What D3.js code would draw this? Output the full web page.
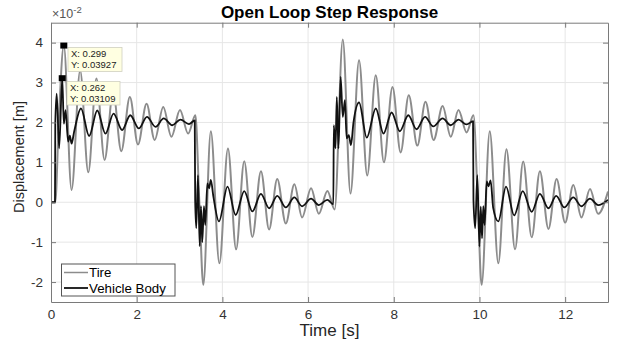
<!DOCTYPE html>
<html>
<head>
<meta charset="utf-8">
<script src="https://cdn.jsdelivr.net/npm/d3@7"></script>
<style>
html,body{margin:0;padding:0;background:#fff;}
svg{display:block;font-family:"Liberation Sans",Arial,Helvetica,sans-serif;}
</style>
</head>
<body>
<svg id="chart" width="623" height="342"></svg>
<script>
// ---- data (displacement values in units of 1e-2 m) ----
const tireT = [0,0.10,0.18,0.299,0.48,0.68,0.87,1.06,1.25,1.45,1.64,1.84,2.03,2.23,2.42,2.62,2.81,3.01,3.20,3.37,
  3.46,3.555,3.73,3.93,4.13,4.32,4.51,4.70,4.90,5.09,5.28,5.48,5.68,5.86,6.07,6.25,6.45,6.62,
  6.81,6.99,7.19,7.38,7.58,7.77,7.97,8.16,8.35,8.55,8.74,8.93,9.14,9.33,9.51,9.70,9.86,
  9.96,10.05,10.24,10.44,10.63,10.83,11.02,11.22,11.41,11.61,11.80,12.00,12.19,12.38,12.58,12.77,13.0];
const tireY = [0,0,2.0,3.927,0.31,3.30,0.75,3.10,1.06,2.77,1.28,2.64,1.45,2.47,1.56,2.39,1.64,2.31,1.72,2.18,
  0.05,-2.07,1.78,-1.53,1.35,-1.18,1.03,-0.87,0.78,-0.68,0.58,-0.53,0.45,-0.38,0.35,-0.29,0.28,-0.18,
  4.08,0.22,3.56,0.67,3.18,1.00,2.89,1.25,2.68,1.42,2.52,1.56,2.41,1.64,2.31,1.75,2.18,
  0.05,-2.07,1.78,-1.53,1.33,-1.18,1.02,-0.88,0.78,-0.67,0.58,-0.51,0.43,-0.38,0.33,-0.29,0.27];

const bodyT = [0,0.093,0.10,0.133,0.19,0.262,0.30,0.34,0.40,0.44,0.48,0.54,0.70,0.89,1.08,1.27,1.46,1.66,1.85,2.05,2.24,2.44,2.63,2.83,3.02,3.22,3.355,
  3.365,3.39,3.43,3.47,3.50,3.53,3.57,3.60,3.65,3.69,3.73,3.79,3.92,4.12,4.31,4.51,4.70,4.90,5.09,5.28,5.48,5.68,5.86,6.07,6.25,6.45,6.59,
  6.60,6.64,6.67,6.71,6.76,6.81,6.86,6.90,6.95,7.00,7.06,7.19,7.37,7.58,7.76,7.95,8.14,8.34,8.53,8.73,8.92,9.14,9.33,9.51,9.70,9.85,
  9.86,9.90,9.95,10.00,10.03,10.06,10.09,10.12,10.17,10.21,10.26,10.32,10.44,10.62,10.81,11.01,11.22,11.41,11.61,11.79,11.98,12.19,12.38,12.58,12.77,13.0];
const bodyY = [0,0,1.97,2.72,1.35,3.109,1.97,2.31,1.52,1.67,1.47,1.77,2.35,1.66,2.30,1.72,2.22,1.81,2.18,1.85,2.14,1.89,2.10,1.93,2.07,1.96,2.05,
  0.05,-0.65,0.68,-1.10,-0.10,-1.0,-0.10,-0.57,0.47,0.35,0.56,0.14,-0.48,0.39,-0.32,0.28,-0.23,0.21,-0.15,0.16,-0.13,0.12,-0.10,0.09,-0.07,0.06,-0.05,
  1.93,1.35,2.64,1.35,3.14,2.14,2.56,1.60,1.68,1.43,2.0,2.50,1.62,2.35,1.72,2.25,1.78,2.18,1.83,2.14,1.90,2.10,1.93,2.07,1.95,2.03,
  0.06,-0.65,0.68,-1.11,-0.11,-0.90,-0.10,-0.57,0.52,0.40,0.55,-0.14,-0.48,0.39,-0.33,0.28,-0.24,0.21,-0.15,0.16,-0.13,0.12,-0.10,0.09,-0.07,0.06];

const xTicks = [0,2,4,6,8,10,12];
const yTicks = [-2,-1,0,1,2,3,4];
const yTickLabels = ["-2","-1","0","1","2","3","4"];
const seriesNames = ["Tire","Vehicle Body"];
const tipT = [0.299, 0.262];
const tipY = [3.927, 3.109];
const tipLabels = [["X: 0.299","Y: 0.03927"],["X: 0.262","Y: 0.03109"]];

// ---- layout ----
const L = 51, R = 608, T = 22.7, B = 302;
const svg = d3.select("#chart");
const x = d3.scaleLinear().domain([0,13]).range([L,R]);
const y = d3.scaleLinear().domain([-2.5,4.5]).range([B,T]);

// grid
const grid = svg.append("g").attr("stroke","#e6e6e6").attr("stroke-width",1);
grid.selectAll(".vx").data(xTicks.slice(1)).join("line")
  .attr("x1",d=>x(d)).attr("x2",d=>x(d)).attr("y1",T).attr("y2",B);
grid.selectAll(".hy").data(yTicks).join("line")
  .attr("y1",d=>y(d)).attr("y2",d=>y(d)).attr("x1",L).attr("x2",R);

// clip
svg.append("clipPath").attr("id","clip").append("rect")
  .attr("x",L).attr("y",T).attr("width",R-L).attr("height",B-T);

const line = d3.line().curve(d3.curveMonotoneX).x(d=>x(d[0])).y(d=>y(d[1]));
const tire = tireT.map((t,i)=>[t,tireY[i]]);
const body = bodyT.map((t,i)=>[t,bodyY[i]]);
const plot = svg.append("g").attr("clip-path","url(#clip)");
plot.append("path").datum(tire).attr("d",line).attr("fill","none")
  .attr("stroke","#8c8c8c").attr("stroke-width",2).attr("stroke-linejoin","round");
plot.append("path").datum(body).attr("d",line).attr("fill","none")
  .attr("stroke","#111").attr("stroke-width",1.8).attr("stroke-linejoin","round");

// axes
function styleAxis(g){
  g.selectAll(".domain").attr("stroke","#7a7a7a");
  g.selectAll(".tick line").attr("stroke","#7a7a7a");
  g.selectAll("text").attr("fill","#333").style("font-size","13.5px")
    .style("font-family","'Liberation Sans',Arial,Helvetica,sans-serif");
}
svg.append("g").attr("transform",`translate(0,${B})`)
  .call(d3.axisBottom(x).tickValues(xTicks).tickFormat(d=>String(d)).tickSizeInner(-5).tickSizeOuter(0).tickPadding(7))
  .call(styleAxis);
svg.append("g").attr("transform",`translate(${L},0)`)
  .call(d3.axisLeft(y).tickValues(yTicks).tickFormat((d,i)=>yTickLabels[i]).tickSizeInner(-5).tickSizeOuter(0).tickPadding(8))
  .call(styleAxis);
svg.append("g").attr("transform",`translate(0,${T})`)
  .call(d3.axisTop(x).tickValues(xTicks).tickSizeInner(-5).tickSizeOuter(0).tickFormat(""))
  .call(styleAxis);
svg.append("g").attr("transform",`translate(${R},0)`)
  .call(d3.axisRight(y).tickValues(yTicks).tickSizeInner(-5).tickSizeOuter(0).tickFormat(""))
  .call(styleAxis);

// exponent label
const ex = svg.append("text").attr("x",52).attr("y",18).attr("fill","#555").style("font-size","12.5px");
ex.append("tspan").text("\u00d710");
ex.append("tspan").attr("dy",-5).style("font-size","9.5px").text("-2");

// title & labels
svg.append("text").attr("x",(L+R)/2).attr("y",18).attr("text-anchor","middle")
  .style("font-size","17px").style("font-weight","bold").attr("fill","#000").text("Open Loop Step Response");
svg.append("text").attr("x",(L+R)/2).attr("y",336).attr("text-anchor","middle")
  .style("font-size","17px").attr("fill","#262626").text("Time [s]");
svg.append("text").attr("transform",`translate(24,157) rotate(-90)`).attr("text-anchor","middle")
  .style("font-size","14.5px").attr("fill","#262626").text("Displacement [m]");

// data tips
const tipBoxes = [{x:68,y:47.5,w:54,h:24},{x:67,y:81.5,w:53,h:23.5}];
tipBoxes.forEach((b,i)=>{
  svg.append("rect").attr("x",b.x).attr("y",b.y).attr("width",b.w).attr("height",b.h)
    .attr("fill","#ffffe1").attr("stroke","#d0d0c0").attr("stroke-width",0.8);
  tipLabels[i].forEach((s,j)=>{
    svg.append("text").attr("x",b.x+3).attr("y",b.y+9.5+j*11).style("font-size","9.5px")
      .attr("fill","#222").text(s);
  });
});
svg.selectAll(".mk").data(tipT).join("rect")
  .attr("x",(d)=>x(d)-3.5).attr("y",(d,i)=>y(tipY[i])-3).attr("width",7).attr("height",6).attr("fill","#000");

// legend
const lg = svg.append("g");
lg.append("rect").attr("x",61.5).attr("y",264).attr("width",113.5).attr("height",32)
  .attr("fill","#fff").attr("stroke","#555").attr("stroke-width",1);
const legColors = ["#8c8c8c","#111"];
seriesNames.forEach((n,i)=>{
  const yy = 272.5 + i*15.5;
  lg.append("line").attr("x1",64).attr("x2",88).attr("y1",yy).attr("y2",yy)
    .attr("stroke",legColors[i]).attr("stroke-width",i?1.8:1.5);
  lg.append("text").attr("x",89).attr("y",yy+4.8).style("font-size","13.3px").attr("fill","#000").text(n);
});
</script>
</body>
</html>
